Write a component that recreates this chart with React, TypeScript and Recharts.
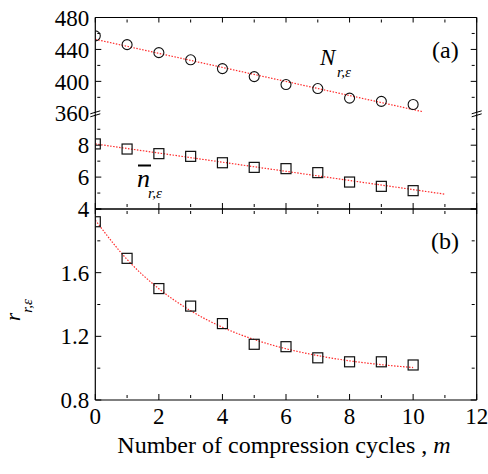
import React from 'react';
import { ComposedChart, Line, XAxis, YAxis, ReferenceDot } from 'recharts';

// ---- data ----
const cycles = [0, 1, 2, 3, 4, 5, 6, 7, 8, 9, 10];
const nTotal = [457, 446, 436, 427, 416, 406, 396, 391, 379, 375, 371];
const nMean = [8.08, 7.76, 7.47, 7.3, 6.9, 6.61, 6.53, 6.28, 5.69, 5.42, 5.15];
const rRatio = [1.92, 1.69, 1.5, 1.39, 1.28, 1.15, 1.135, 1.065, 1.04, 1.04, 1.02];

const fitNX = [0, 10.3];
const fitNY = [452.7, 362];
const fitnX = [0, 11];
const fitnY = [8.08, 4.93];
const fitRX = [0, 1, 2, 3, 4, 5, 6, 7, 8, 9, 10];
const fitRY = [1.93, 1.683, 1.499, 1.361, 1.257, 1.18, 1.122, 1.079, 1.046, 1.022, 1.004];

const xLabelTicks = [0, 2, 4, 6, 8, 10, 12];
const xMajorTicks = [0, 2, 4, 6, 8, 10, 12];
const xMinorTicks = [1, 3, 5, 7, 9, 11];

const upLabelTicks = [360, 400, 440, 480];
const upMajorTicks = [400, 440, 480];
const upMinorTicks = [380, 420, 460];
const loLabelTicks = [4, 6, 8];
const loMajorTicks = [4, 6, 8];
const loMinorTicks = [5, 7, 9];
const bLabelTicks = [0.8, 1.2, 1.6];
const bMajorTicks = [0.8, 1.2, 1.6, 2.0];
const bMinorTicks = [1.0, 1.4, 1.8];

const toRows = (xs: number[], ys: number[]) => xs.map((x, i) => ({ x, y: ys[i] }));

// ---- layout ----
const W = 488;
const H = 474;
const PL = 95.3;
const PR = 476.7;
const YW = 60;
const FONT = "'Liberation Serif', 'Times New Roman', Times, 'DejaVu Serif', serif";
const FIT_COLOR = '#ff2a2a';
const AX = '#000';

const tickStyle = { fontFamily: FONT, fontSize: 23, fill: '#000', style: { fontFamily: FONT } };
const noLabel = () => '';

const Square = (p: any) => {
  if (p.cx == null || p.cy == null) return <g key={`s${p.index}`} />;
  return (
    <rect key={`s${p.index}`} x={p.cx - 5} y={p.cy - 5} width={10} height={10}
      fill="none" stroke="#111" strokeWidth={1.2} />
  );
};
const Circle = (p: any) => {
  if (p.cx == null || p.cy == null) return <g key={`c${p.index}`} />;
  return (
    <circle key={`c${p.index}`} cx={p.cx} cy={p.cy} r={5}
      fill="none" stroke="#111" strokeWidth={1.1} />
  );
};

const BreakMark = (p: any) => (
  <g>
    <line x1={p.cx - 5} y1={p.cy + 0.5} x2={p.cx + 5} y2={p.cy - 2.5} stroke="#000" strokeWidth={1} />
    <line x1={p.cx - 5} y1={p.cy + 3.5} x2={p.cx + 5} y2={p.cy + 0.5} stroke="#000" strokeWidth={1} />
  </g>
);

type PanelProps = {
  top: number;
  bottom: number;
  domain: [number, number];
  labelTicks: number[];
  majorTicks: number[];
  minorTicks: number[];
  topEdge: boolean;
  bottomEdge: boolean;
  xLabels: boolean;
  points: { x: number; y: number }[];
  fit: { x: number; y: number }[];
  marker: 'circle' | 'square';
  fitType: 'linear' | 'monotone';
  breakAt?: number;
};

function Panel(props: PanelProps) {
  const { top, bottom, domain, labelTicks, majorTicks, minorTicks, topEdge, bottomEdge, xLabels, points, fit, marker, fitType, breakAt } = props;
  const XL = 40;
  const margin = {
    top,
    bottom: H - bottom - (xLabels ? XL : 0),
    left: PL - YW,
    right: W - PR,
  };
  const xCommon = { type: 'number' as const, domain: [0, 12] as [number, number], allowDataOverflow: true, interval: 0 as const };
  const yCommon = { type: 'number' as const, domain, allowDataOverflow: true, interval: 0 as const };
  const tl = { stroke: AX, strokeWidth: 1 };
  const al = { stroke: AX, strokeWidth: 1.2 };
  const blank = { fontSize: 1, fill: 'none' };
  return (
    <div style={{ position: 'absolute', left: 0, top: 0, width: W, height: H }}>
      <ComposedChart width={W} height={H} margin={margin}>
        {/* inward tick axes (mirrored, no labels) */}
        {bottomEdge && (
          <XAxis xAxisId="bmaj" dataKey="x" {...xCommon} orientation="bottom" mirror height={2}
            ticks={xMajorTicks} tick={blank} tickFormatter={noLabel} tickSize={6}
            axisLine={al} tickLine={tl} />
        )}
        {bottomEdge && (
          <XAxis xAxisId="bmin" dataKey="x" {...xCommon} orientation="bottom" mirror height={2}
            ticks={xMinorTicks} tick={blank} tickFormatter={noLabel} tickSize={3}
            axisLine={false} tickLine={tl} />
        )}
        {topEdge && (
          <XAxis xAxisId="tmaj" dataKey="x" {...xCommon} orientation="top" mirror height={2}
            ticks={xMajorTicks} tick={blank} tickFormatter={noLabel} tickSize={5}
            axisLine={al} tickLine={tl} />
        )}
        {topEdge && (
          <XAxis xAxisId="tmin" dataKey="x" {...xCommon} orientation="top" mirror height={2}
            ticks={xMinorTicks} tick={blank} tickFormatter={noLabel} tickSize={3}
            axisLine={false} tickLine={tl} />
        )}
        <XAxis xAxisId="main" dataKey="x" {...xCommon} orientation="bottom" height={xLabels ? XL : 0}
          hide={!xLabels} ticks={xLabelTicks} tick={tickStyle} tickSize={0} tickMargin={8}
          axisLine={false} tickLine={false} />

        <YAxis yAxisId="lmaj" {...yCommon} orientation="left" mirror width={2}
          ticks={majorTicks} tick={blank} tickFormatter={noLabel} tickSize={6} axisLine={al} tickLine={tl} />
        <YAxis yAxisId="lmin" {...yCommon} orientation="left" mirror width={2}
          ticks={minorTicks} tick={blank} tickFormatter={noLabel} tickSize={3} axisLine={false} tickLine={tl} />
        <YAxis yAxisId="rmaj" {...yCommon} orientation="right" mirror width={2}
          ticks={majorTicks} tick={blank} tickFormatter={noLabel} tickSize={6} axisLine={al} tickLine={tl} />
        <YAxis yAxisId="rmin" {...yCommon} orientation="right" mirror width={2}
          ticks={minorTicks} tick={blank} tickFormatter={noLabel} tickSize={3} axisLine={false} tickLine={tl} />
        <YAxis yAxisId="main" {...yCommon} orientation="left" width={YW}
          ticks={labelTicks} tick={tickStyle} tickSize={0} tickMargin={6}
          axisLine={false} tickLine={false} />

        <Line xAxisId="main" yAxisId="main" data={fit} dataKey="y" type={fitType}
          stroke={FIT_COLOR} strokeWidth={1.2} strokeDasharray="1.5 1.5" dot={false}
          isAnimationActive={false} />
        <Line xAxisId="main" yAxisId="main" data={points} dataKey="y" stroke="none"
          dot={marker === 'circle' ? Circle : Square} isAnimationActive={false} />

        {breakAt !== undefined && (
          <ReferenceDot xAxisId="main" yAxisId="main" x={0} y={breakAt} ifOverflow="visible" shape={BreakMark} />
        )}
        {breakAt !== undefined && (
          <ReferenceDot xAxisId="main" yAxisId="main" x={12} y={breakAt} ifOverflow="visible" shape={BreakMark} />
        )}
      </ComposedChart>
    </div>
  );
}

export default function App() {
  const nTotalRows = toRows(cycles, nTotal);
  const nMeanRows = toRows(cycles, nMean);
  const rRows = toRows(cycles, rRatio);
  return (
    <div style={{ position: 'absolute', left: 0, top: 0, width: W, height: H, background: '#fff', fontFamily: FONT }}>
      <Panel top={17.5} bottom={113.3} domain={[360, 480]} labelTicks={upLabelTicks}
        majorTicks={upMajorTicks} minorTicks={upMinorTicks} topEdge bottomEdge={false} xLabels={false}
        points={nTotalRows} fit={toRows(fitNX, fitNY)} marker="circle" fitType="linear" breakAt={360} />
      <Panel top={113.3} bottom={209} domain={[4, 10]} labelTicks={loLabelTicks}
        majorTicks={loMajorTicks} minorTicks={loMinorTicks} topEdge={false} bottomEdge xLabels={false}
        points={nMeanRows} fit={toRows(fitnX, fitnY)} marker="square" fitType="linear" />
      <Panel top={209} bottom={400} domain={[0.8, 2.0]} labelTicks={bLabelTicks}
        majorTicks={bMajorTicks} minorTicks={bMinorTicks} topEdge bottomEdge xLabels
        points={rRows} fit={toRows(fitRX, fitRY)} marker="square" fitType="monotone" />

      <svg width={W} height={H} style={{ position: 'absolute', left: 0, top: 0, pointerEvents: 'none', fontFamily: FONT }}>
        <g fill="#000">
          <text x={320} y={65} fontSize={23} fontStyle="italic">N</text>
          <text x={337} y={77} fontSize={15} fontStyle="italic">r,ε</text>
          <text x={137} y={187} fontSize={26} fontStyle="italic">n</text>
          <line x1={138} y1={165.5} x2={151} y2={165.5} stroke="#000" strokeWidth={2} />
          <text x={148} y={198} fontSize={15} fontStyle="italic">r,ε</text>
          <text x={432} y={58} fontSize={24}>(a)</text>
          <text x={431} y={249} fontSize={24}>(b)</text>
          <text transform="translate(20,321) rotate(-90)" fontSize={21} fontStyle="italic">
            r<tspan dy={12} fontSize={15}>r,ε</tspan>
          </text>
          <text x={284} y={453} fontSize={24} textAnchor="middle">
            Number of compression cycles , <tspan fontStyle="italic">m</tspan>
          </text>
        </g>
      </svg>
    </div>
  );
}
